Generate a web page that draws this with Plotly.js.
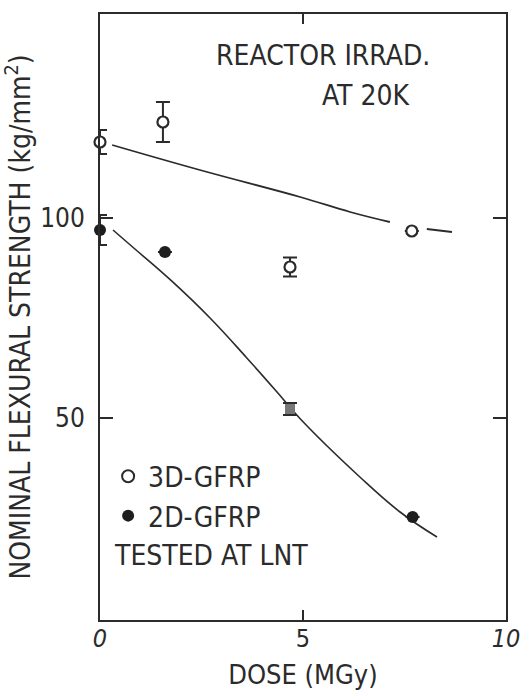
<!DOCTYPE html>
<html>
<head>
<meta charset="utf-8">
<script src="https://cdn.plot.ly/plotly-3.0.1.min.js"></script>
<style>html,body{margin:0;padding:0;background:#fff;}#chart{width:526px;height:693px;}</style>
</head>
<body>
<div id="chart"></div>
<script>
// 3D-GFRP (open circles)
const dose3D = [0, 1.55, 4.68, 7.68];
const strength3D = [119, 124, 87.75, 96.75];
const err3D = [3, 5, 2.4, 0];
// 2D-GFRP (filled circles)
const dose2D = [0, 1.6, 4.68, 7.7];
const strength2D = [97, 91.5, 52.25, 25.25];
const err2D = [3.75, 0, 1.5, 0];
// drawn trend curves
const curve3Dx = [0.3, 2.46, 4.93, 6.16, 7.14, null, 8.05, 8.67];
const curve3Dy = [118.25, 112, 105.25, 101.5, 99, null, 97.25, 96.5];
const curve2Dx = [0.32, 0.86, 1.77, 2.71, 3.6, 4.36, 4.93, 6.40, 7.39, 8.30];
const curve2Dy = [97.0, 92.25, 84.2, 75.0, 65.2, 56.5, 49.8, 35.25, 26.5, 20.25];
// ticks
const xTickVals = [0, 5, 10];
const xTickText = ['<i>0</i>', '5', '<i>10</i>'];
const yTickVals = [50, 100];
const yTickText = ['50', '100'];

const FONT = '"DejaVu Sans Condensed", "Liberation Sans Narrow", "Liberation Sans", sans-serif';
const INK = '#2b2b2b';

const data = [
  {x: curve3Dx, y: curve3Dy, mode: 'lines', line: {color: INK, width: 1.8, shape: 'spline', smoothing: 1.2}, connectgaps: false, showlegend: false, hoverinfo: 'skip'},
  {x: curve2Dx, y: curve2Dy, mode: 'lines', line: {color: INK, width: 1.6, shape: 'spline', smoothing: 1.2}, showlegend: false, hoverinfo: 'skip'},
  {x: dose3D, y: strength3D, name: '3D-GFRP', mode: 'markers', type: 'scatter', cliponaxis: false,
   marker: {symbol: 'circle', size: 11, opacity: 1, color: '#ffffff', line: {color: INK, width: 2.2}},
   error_y: {type: 'data', array: err3D, visible: true, color: INK, thickness: 2, width: 7}},
  {x: dose2D, y: strength2D, name: '2D-GFRP', mode: 'markers', type: 'scatter', cliponaxis: false,
   marker: {symbol: ['circle', 'circle', 'square', 'circle'], size: [12, 12, 10, 12], opacity: 1, color: ['#1e1e1e', '#1e1e1e', '#777777', '#1e1e1e'], line: {width: 0}},
   error_y: {type: 'data', array: err2D, visible: true, color: INK, thickness: 2, width: 7}}
];

const layout = {
  width: 526, height: 693,
  margin: {l: 100, r: 20, t: 14, b: 73},
  paper_bgcolor: '#ffffff', plot_bgcolor: '#ffffff',
  font: {family: FONT, color: INK, size: 26},
  showlegend: true,
  legend: {x: 0.02, y: 0.278, xanchor: 'left', yanchor: 'top', bgcolor: 'rgba(0,0,0,0)',
           font: {family: FONT, size: 28, color: INK}, tracegroupgap: 0, itemsizing: 'constant'},
  xaxis: {range: [0, 10], tickvals: xTickVals, ticktext: xTickText, ticks: 'inside', ticklen: 10, tickwidth: 2, tickcolor: INK,
          showline: true, linewidth: 2, linecolor: INK, mirror: 'ticks', showgrid: false, zeroline: false,
          tickfont: {family: FONT, size: 25, color: INK}, ticklabelstandoff: -5,
          title: {text: 'DOSE (MGy)', font: {family: FONT, size: 27, color: INK}, standoff: 13}},
  yaxis: {range: [-0.5, 151], tickvals: yTickVals, ticktext: yTickText, ticks: 'inside', ticklen: 13, tickwidth: 2, tickcolor: INK,
          showline: true, linewidth: 2, linecolor: INK, mirror: 'ticks', showgrid: false, zeroline: false,
          tickfont: {family: FONT, size: 26, color: INK}, ticklabelstandoff: 8,
          title: {text: 'NOMINAL FLEXURAL STRENGTH (kg/mm<sup>2</sup>)', font: {family: FONT, size: 28, color: INK}, standoff: 8}},
  annotations: [
    {xref: 'paper', yref: 'paper', x: 0.549, y: 0.932, xanchor: 'center', yanchor: 'middle', text: 'REACTOR IRRAD.', showarrow: false, font: {family: FONT, size: 28, color: INK}},
    {xref: 'paper', yref: 'paper', x: 0.655, y: 0.865, xanchor: 'center', yanchor: 'middle', text: 'AT 20K', showarrow: false, font: {family: FONT, size: 28, color: INK}},
    {xref: 'paper', yref: 'paper', x: 0.03, y: 0.107, xanchor: 'left', yanchor: 'middle', text: 'TESTED AT LNT', showarrow: false, font: {family: FONT, size: 28, color: INK}}
  ]
};

Plotly.newPlot('chart', data, layout, {staticPlot: true, displayModeBar: false});
</script>
</body>
</html>
